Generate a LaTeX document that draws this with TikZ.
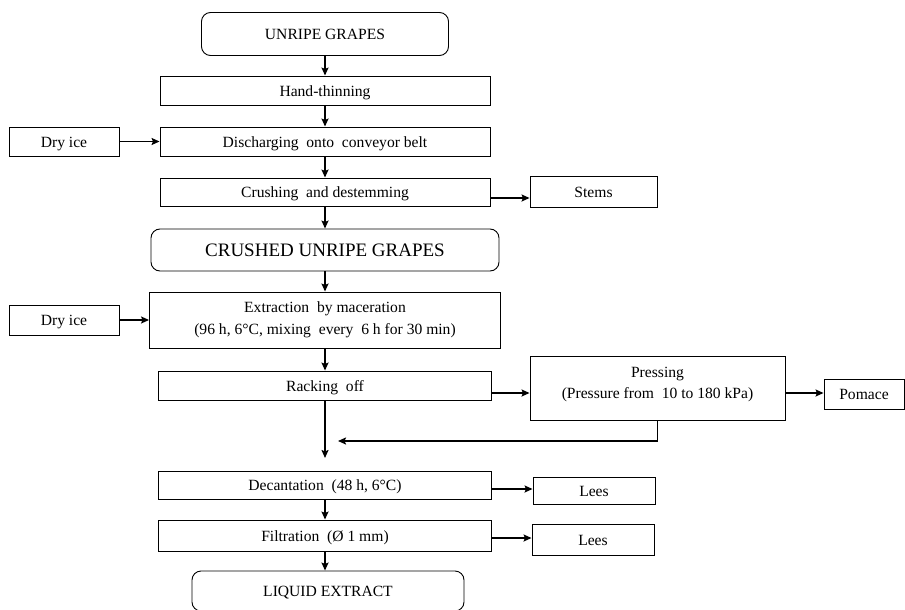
\documentclass[tikz,border=0pt]{standalone}
\usepackage{fontspec}
\setmainfont{Liberation Serif}
\usetikzlibrary{positioning,arrows.meta}
\tikzset{
flowchart/.style={
    >={Stealth[length=8pt,width=7pt,inset=1.5pt]},
    x=1pt,
    y=-1pt,
    node distance=50pt,
    font=\fontsize{15.6}{22}\selectfont
},
stepbox/.style={
    rectangle,
    draw,
    line width=0.9pt,
    minimum height=29pt,
    minimum width=330pt,
    inner sep=0pt,
    text height=11pt,
    text depth=0pt,
    align=center
},
twoline/.style={
    text height=,
    text depth=#1
},
stage/.style={
    stepbox,
    rounded corners=9pt
},
sidebox/.style={
    stepbox,
    minimum width=110pt
},
goes/.style={
    ->,
    line width=1.8pt
}}

\begin{document}
\begin{tikzpicture}[flowchart]
\useasboundingbox (0,0) rectangle (905,610);
\clip (0,0) rectangle (905,610);

% main line
\node[stage, minimum width=247pt, minimum height=43pt]    (unripe)    at (325,34)    {UNRIPE GRAPES};
\node[stepbox]    (hand)    [below of=unripe, node distance=56.5pt]    {Hand-thinning};
\node[stepbox]    (disch)   [below of=hand, node distance=51pt]    {Discharging~ onto~ conveyor belt};
\node[stepbox, minimum height=28pt]    (crush)    [below of=disch, node distance=50.5pt]    {Crushing~ and destemming};
\node[stage, minimum width=348pt, minimum height=42pt, text height=13.5pt, font=\fontsize{19}{22}\selectfont]    (crushed)    [below of=crush, node distance=58pt]    {CRUSHED UNRIPE GRAPES};
\node[stepbox, twoline=4pt, minimum width=351pt, minimum height=56pt]    (extract)    [below of=crushed, node distance=70pt]    {Extraction~ by maceration\\(96 h, 6°C, mixing~ every~ 6 h for 30 min)};
\node[stepbox, minimum width=333pt]    (rack)    [below of=extract, node distance=65.5pt]    {Racking~ off};
\node[coordinate]    (merge)    [below of=rack, node distance=72.5pt]    {};
\node[coordinate]    (back)     [right of=merge, node distance=13pt, yshift=17pt]    {};
\node[stepbox, minimum width=333pt, minimum height=28pt]    (decant)    [below of=rack, node distance=99.5pt]    {Decantation~ (48 h, 6°C)};
\node[stepbox, minimum width=333pt, minimum height=31pt]    (filtr)    [below of=decant, node distance=50.5pt]    {Filtration~ (Ø 1 mm)};
\node[stage, minimum width=272pt, minimum height=40pt]    (liquid)    [below of=filtr, node distance=55.5pt, xshift=3pt]    {LIQUID EXTRACT};

% side boxes
\node[sidebox]    (dry1)    [left of=disch, node distance=261pt]    {Dry ice};
\node[sidebox, minimum width=127pt, minimum height=31pt]    (stems)    [right of=crush, node distance=268.5pt]    {Stems};
\node[sidebox, minimum height=30pt]    (dry2)    [left of=extract, node distance=261pt]    {Dry ice};
\node[stepbox, twoline=10pt, minimum width=255pt, minimum height=64pt, font=\fontsize{15.6}{21}\selectfont]    (press)    [right of=rack, node distance=332.5pt, yshift=-2.5pt]    {Pressing\\(Pressure from~ 10 to 180 kPa)};
\node[sidebox, minimum width=80pt, minimum height=30pt]    (pomace)    [right of=press, node distance=206.5pt, yshift=-6pt]    {Pomace};
\node[sidebox, minimum width=122pt, minimum height=27pt]    (lees1)    [right of=decant, node distance=269pt, yshift=-5.5pt]    {Lees};
\node[sidebox, minimum width=122pt, minimum height=31pt]    (lees2)    [right of=filtr, node distance=268pt, yshift=-4pt]    {Lees};

\path    (unripe)     edge[goes]    (hand);
\path    (hand)       edge[goes]    (disch);
\path    (disch)      edge[goes]    (crush);
\path    (crush)      edge[goes]    (crushed);
\path    (crushed)    edge[goes]    (extract);
\path    (extract)    edge[goes]    (rack);
\path    (rack)       edge[goes]    (merge);
\path    (decant)     edge[goes]    (filtr);
\path    (filtr.south)    edge[goes]    (filtr.south |- liquid.north);

\path    (dry1)    edge[goes]    (disch);
\path    (dry2)    edge[goes]    (extract);
\path    ([yshift=-6pt]crush.east)      edge[goes]    ([yshift=-6pt]crush.east -| stems.west);
\path    ([yshift=-7.5pt]rack.east)     edge[goes]    ([yshift=-7.5pt]rack.east -| press.west);
\path    ([yshift=-5pt]press.east)      edge[goes]    ([yshift=-5pt]press.east -| pomace.west);
\path    ([yshift=-4pt]decant.east)     edge[goes]    ([yshift=-4pt]decant.east -| lees1.west);
\path    ([yshift=-2.5pt]filtr.east)    edge[goes]    ([yshift=-2.5pt]filtr.east -| lees2.west);
\draw[goes]    (press.south) |- (back);
\end{tikzpicture}
\end{document}
